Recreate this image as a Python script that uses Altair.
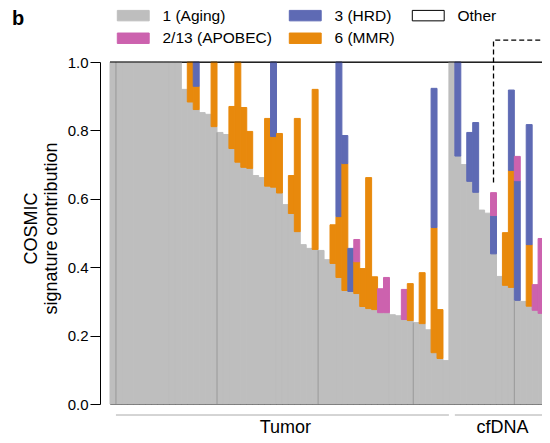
import altair as alt
import pandas as pd

# --- data (one value per sample, in plot order) ---
aging = [1.0] * 12 + [
    0.920, 0.883, 0.861, 0.852, 0.847, 0.811, 0.794, 0.788, 0.747, 0.707,
    0.692, 0.689, 0.668, 0.662, 0.637, 0.634, 0.617, 0.583, 0.557, 0.504,
    0.466, 0.455, 0.452, 0.449, 0.422, 0.411, 0.370, 0.332, 0.329, 0.323,
    0.285, 0.279, 0.276, 0.267, 0.267, 0.261, 0.258, 0.247, 0.244, 0.238,
    0.235, 0.217, 0.150, 0.133, 0.127,
    # cfDNA
    1.0, 0.725, 0.700, 0.651, 0.619, 0.567, 0.558, 0.439, 0.373, 0.347,
    0.341, 0.303, 0.300, 0.286, 0.274, 0.265, 0.229,
]
mmr = [0.0] * 12 + [
    0.0, 0.117, 0.068, 0.0, 0.0, 0.189, 0.0, 0.0, 0.123, 0.293,
    0.175, 0.108, 0.0, 0.0, 0.198, 0.148, 0.174, 0.0, 0.111, 0.331,
    0.0, 0.0, 0.468, 0.0, 0.0, 0.113, 0.178, 0.371, 0.0, 0.093,
    0.111, 0.383, 0.096, 0.0, 0.0, 0.0, 0.0, 0.0, 0.108, 0.0,
    0.149, 0.0, 0.366, 0.143, 0.0,
    0.0, 0.0, 0.0, 0.0, 0.0, 0.0, 0.0, 0.0, 0.0, 0.154,
    0.342, 0.0, 0.0, 0.180, 0.0, 0.0, 0.0,
]
hrd = [0.0] * 12 + [
    0.0, 0.0, 0.071, 0.0, 0.0, 0.0, 0.0, 0.0, 0.0, 0.0,
    0.0, 0.0, 0.0, 0.0, 0.0, 0.218, 0.0, 0.0, 0.0, 0.0,
    0.0, 0.0, 0.0, 0.0, 0.0, 0.0, 0.452, 0.082, 0.126, 0.0,
    0.0, 0.0, 0.0, 0.0, 0.0, 0.0, 0.0, 0.0, 0.0, 0.0,
    0.0, 0.0, 0.407, 0.0, 0.0,
    0.0, 0.275, 0.0, 0.143, 0.204, 0.0, 0.0, 0.112, 0.0, 0.0,
    0.235, 0.350, 0.0, 0.351, 0.0, 0.0, 0.243,
]
apobec = [0.0] * 12 + [
    0.0, 0.0, 0.0, 0.0, 0.0, 0.0, 0.0, 0.0, 0.0, 0.0,
    0.0, 0.0, 0.0, 0.0, 0.0, 0.0, 0.0, 0.0, 0.0, 0.0,
    0.0, 0.0, 0.0, 0.0, 0.0, 0.0, 0.0, 0.0, 0.0, 0.065,
    0.0, 0.0, 0.0, 0.070, 0.103, 0.0, 0.0, 0.088, 0.0, 0.0,
    0.0, 0.0, 0.0, 0.0, 0.0,
    0.0, 0.0, 0.0, 0.0, 0.0, 0.0, 0.0, 0.067, 0.0, 0.0,
    0.0, 0.071, 0.0, 0.0, 0.075, 0.219, 0.0,
]

sig_names = ["1 (Aging)", "3 (HRD)", "Other", "2/13 (APOBEC)", "6 (MMR)"]
sig_fill = ["#BEBEBE", "#5E6AB4", "#FFFFFF", "#CC62AE", "#E8890C"]
sig_stroke = ["#BEBEBE", "#5E6AB4", "#000000", "#CC62AE", "#E8890C"]

group_names = ["Tumor", "cfDNA"]
group_start = [1, 58]
group_end = [57, 73.5]
group_mid = [29.5, 66]

sep_pos = [1, 18, 35, 51, 68]          # thin separators between sample blocks
annot_x = [64.5, 64.5, 76]             # dashed call-out line
annot_y = [0.648, 1.064, 1.064]

panel_letter = "b"

# --- tables ---
rows = []
for i in range(len(aging)):
    base = 0.0
    for name, vals in [("1 (Aging)", aging), ("6 (MMR)", mmr),
                       ("3 (HRD)", hrd), ("2/13 (APOBEC)", apobec)]:
        v = vals[i]
        if v > 0:
            rows.append({"idx": i, "idx2": i + 1, "sig": name, "y0": base, "y1": base + v})
            base += v
bars_df = pd.DataFrame(rows)

sep_df = pd.DataFrame({"x": sep_pos,
                       "top": [min(aging[p - 1], aging[p]) for p in sep_pos]})
grp_df = pd.DataFrame({"name": group_names, "x0": group_start, "x1": group_end, "xm": group_mid})
ann_df = pd.DataFrame({"x": annot_x, "y": annot_y, "o": list(range(len(annot_x)))})

FONT = "Liberation Sans"
N = len(aging)
xscale = alt.Scale(domain=[0, N], nice=False, zero=False)
yscale = alt.Scale(domain=[0, 1], nice=False)

legend = alt.Legend(
    title=None, orient="none", legendX=15.5, legendY=-54.5, direction="horizontal",
    columns=3, symbolType="M-2.9,-0.95H2.9V0.95H-2.9Z", symbolSize=121,
    symbolStrokeWidth=1, labelFontSize=15.5, labelFont=FONT, labelColor="black",
    labelOffset=21.5, columnPadding=14, rowPadding=6, padding=0,
)

bars = alt.Chart(bars_df).mark_bar().encode(
    x=alt.X("idx:Q", scale=xscale, axis=None),
    x2="idx2:Q",
    y=alt.Y("y0:Q", scale=yscale, axis=alt.Axis(
        values=[0, 0.2, 0.4, 0.6, 0.8, 1.0], format=".1f", offset=10, tickSize=10,
        tickColor="black", domainColor="black", labelFontSize=15, labelFont=FONT,
        labelColor="black", labelPadding=2, grid=False,
        title=["COSMIC", "signature contribution"], titleFont=FONT, titleFontSize=18,
        titleFontWeight="normal", titleColor="black", titlePadding=7, titleLineHeight=20,
        titleY=166,
    )),
    y2="y1:Q",
    color=alt.Color("sig:N", scale=alt.Scale(domain=sig_names, range=sig_fill), legend=legend),
    stroke=alt.Stroke("sig:N", scale=alt.Scale(domain=sig_names, range=sig_stroke), legend=legend),
)

seps = alt.Chart(sep_df).mark_rule(color="#999999", strokeWidth=1).encode(
    x="x:Q", y=alt.Y("top:Q"), y2=alt.datum(0)
)

topline = alt.Chart(pd.DataFrame({"v": [1.0]})).mark_rule(color="black", strokeWidth=1).encode(
    y="v:Q", x=alt.datum(0), x2=alt.datum(N)
)

brackets = alt.Chart(grp_df).mark_rule(color="#AAAAAA", strokeWidth=1).encode(
    x="x0:Q", x2="x1:Q", y=alt.value(353)
)
glabels = alt.Chart(grp_df).mark_text(font=FONT, fontSize=18, color="black",
                                      baseline="alphabetic").encode(
    x="xm:Q", y=alt.value(370.5), text="name:N"
)

annot = alt.Chart(ann_df).mark_line(color="black", strokeWidth=1.3, strokeDash=[5, 3],
                                     clip=False).encode(
    x="x:Q", y="y:Q", order="o:Q"
)

letter = alt.Chart(pd.DataFrame({"t": [panel_letter]})).mark_text(
    font=FONT, fontSize=20, fontWeight="bold", color="black", align="left",
    baseline="alphabetic").encode(
    x=alt.value(-98), y=alt.value(-37), text="t:N"
)

chart = alt.layer(bars, seps, topline, brackets, glabels, annot, letter).properties(
    width=440, height=342,
    autosize=alt.AutoSizeParams(type="none"),
    padding={"left": 102, "top": 54, "right": -8, "bottom": 31},
).configure_view(stroke="#444444", strokeWidth=1)

chart.save("out.html", embed_options={"renderer": "svg", "actions": False})
